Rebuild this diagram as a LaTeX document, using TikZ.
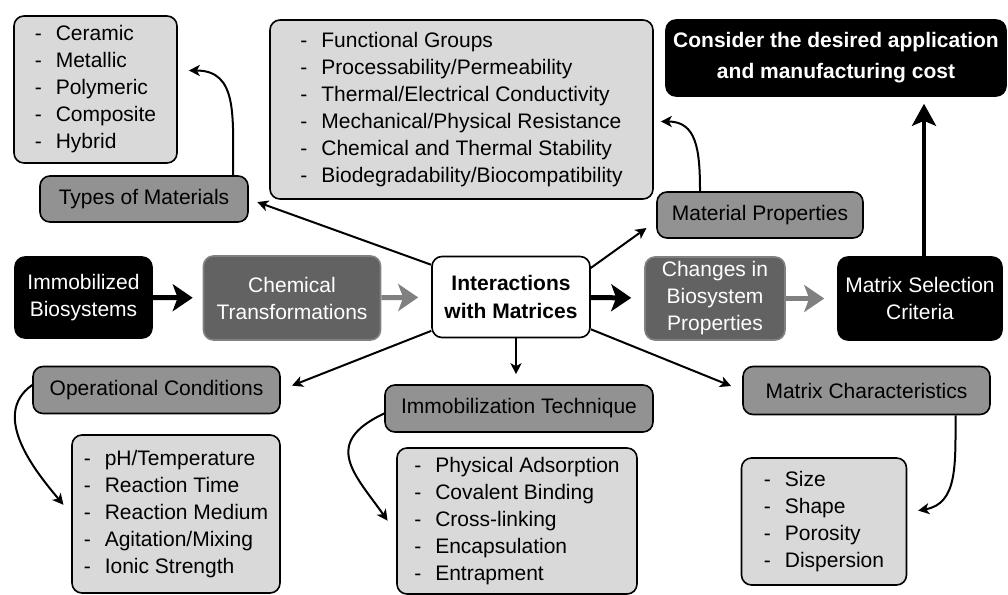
\documentclass[tikz,border=0pt]{standalone}
\usepackage{fontspec}
\setmainfont{Liberation Sans}
\usepackage{tikz}
\usetikzlibrary{arrows.meta}
\definecolor{listgray}{RGB}{217,217,217}
\definecolor{headgray}{RGB}{146,146,146}
\definecolor{boxdark}{RGB}{98,98,98}
\definecolor{flowgray}{RGB}{128,128,128}
\newcommand{\dashitem}[1]{\makebox[21pt][l]{-}#1}

\begin{document}
\begin{tikzpicture}[x=1pt, y=-1pt,
  every node/.style={font={\fontsize{21}{27}\selectfont}, rounded corners=10pt, line width=1.6pt, align=center, inner sep=0pt},
  listbox/.style={draw, fill=listgray, align=left},
  headbox/.style={draw, fill=headgray},
  blackbox/.style={draw, fill=black, text=white},
  darkbox/.style={draw=boxdark!80!white, fill=boxdark, text=white},
  linkarrow/.style={-{Stealth[length=11pt,width=11pt,inset=3pt]}, line width=2pt},
  flowarrow/.style={-{Stealth[length=20pt,width=27pt,inset=5pt]}, line width=5pt}]
\useasboundingbox (0,0) rectangle (1008,594);

% main row
\node[blackbox, minimum width=137pt, minimum height=81pt] (immob) at (83.5,297.5) {Immobilized\\Biosystems};
\node[darkbox, minimum width=177pt, minimum height=84pt] (chem) at (292,298) {Chemical\\Transformations};
\node[draw, fill=white, font={\fontsize{21}{28}\selectfont\bfseries}, minimum width=158pt, minimum height=81pt] (inter) at (511,297) {Interactions\\with Matrices};
\node[darkbox, minimum width=140pt, minimum height=83pt] (changes) at (715,298.5) {Changes in\\Biosystem\\Properties};
\node[blackbox, minimum width=164pt, minimum height=83pt] (crit) at (920,298.5) {Matrix Selection\\Criteria};
\node[blackbox, font={\fontsize{21}{31}\selectfont\bfseries}, minimum width=340pt, minimum height=76pt] (cost) at (836,58) {Consider the desired application\\and manufacturing cost};

% headers
\node[headbox, minimum width=208pt, minimum height=46pt] (types) at (144,199) {Types of Materials};
\node[headbox, minimum width=206pt, minimum height=46pt] (props) at (760,215) {Material Properties};
\node[headbox, minimum width=247pt, minimum height=47pt] (opcond) at (156.5,390) {Operational Conditions};
\node[headbox, minimum width=268pt, minimum height=47pt] (technique) at (519,408.5) {Immobilization Technique};
\node[headbox, minimum width=247pt, minimum height=48pt] (matchar) at (866.5,390.5) {Matrix Characteristics};

% lists
\node[listbox, minimum width=163pt, minimum height=147pt] (typeslist) at (95.5,89.5) {\dashitem{Ceramic}\\\dashitem{Metallic}\\\dashitem{Polymeric}\\\dashitem{Composite}\\\dashitem{Hybrid}};
\node[listbox, minimum width=383pt, minimum height=179pt] (propslist) at (461.5,109.5) {\dashitem{Functional Groups}\\\dashitem{Processability/Permeability}\\\dashitem{Thermal/Electrical Conductivity}\\\dashitem{Mechanical/Physical Resistance}\\\dashitem{Chemical and Thermal Stability}\\\dashitem{Biodegradability/Biocompatibility}};
\node[listbox, minimum width=208pt, minimum height=158pt] (oplist) at (176,514) {\dashitem{pH/Temperature}\\\dashitem{Reaction Time}\\\dashitem{Reaction Medium}\\\dashitem{Agitation/Mixing}\\\dashitem{Ionic Strength}};
\node[listbox, minimum width=240pt, minimum height=146pt] (techlist) at (517,521) {\dashitem{Physical Adsorption}\\\dashitem{Covalent Binding}\\\dashitem{Cross-linking}\\\dashitem{Encapsulation}\\\dashitem{Entrapment}};
\node[listbox, minimum width=165pt, minimum height=127pt] (charlist) at (824,521.5) {\dashitem{Size}\\\dashitem{Shape}\\\dashitem{Porosity}\\\dashitem{Dispersion}};

% flow
\draw[flowarrow, shorten >=10pt] (immob) -- (chem);
\draw[flowarrow, flowgray, shorten >=13pt] (chem) -- (inter);
\draw[flowarrow, shorten >=13pt] (inter) -- (changes);
\draw[flowarrow, flowgray, shorten >=13pt] (changes) -- (crit);
\draw[flowarrow, line width=4pt, -{Stealth[length=22pt,width=24pt,inset=5pt]}, shorten >=7pt] ([xshift=4pt]crit.north) -- ([xshift=4pt]crit.north |- cost.south);

% links
\draw[linkarrow, shorten >=9pt] (inter.158) -- (types.east);
\draw[linkarrow, shorten >=12pt] (inter.20) -- ([yshift=-6pt]props.west);
\draw[linkarrow, shorten >=12pt] (inter.203) -- (opcond.east);
\draw[linkarrow, shorten >=10pt] ([xshift=5pt]inter.south) -- ([xshift=5pt]inter.south |- technique.north);
\draw[linkarrow, shorten >=12pt] (inter.-22) -- (matchar.west);

% curved links
\draw[linkarrow, shorten >=11pt] ([xshift=89pt]types.north) to[out=90, in=0, looseness=1.3] ([yshift=19pt]typeslist.east);
\draw[linkarrow, shorten >=7pt] ([xshift=-60pt]props.north) to[out=90, in=0, looseness=1.3] ([yshift=-12pt]propslist.east);
\draw[linkarrow, shorten >=12pt] ([yshift=5pt]opcond.west) to[out=215, in=130] (oplist.west);
\draw[linkarrow, shorten >=15pt] ([yshift=-5pt]technique.west) to[out=205, in=125, looseness=1.5] ([yshift=-12pt]techlist.west);
\draw[linkarrow, shorten >=11pt] ([xshift=89pt]matchar.south) to[out=-90, in=10, looseness=1.2] ([yshift=9pt]charlist.east);
\end{tikzpicture}
\end{document}
